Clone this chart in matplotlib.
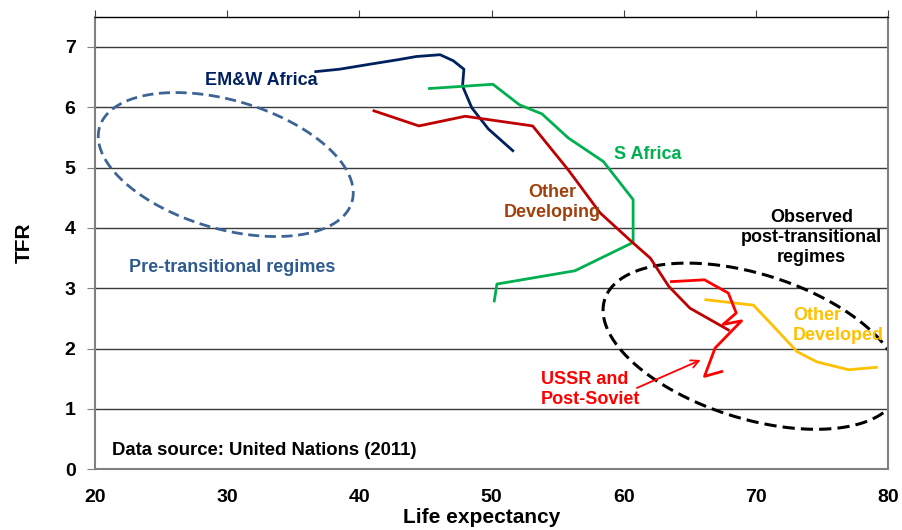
import numpy as np
import matplotlib
matplotlib.use("Agg")
import matplotlib.pyplot as plt

plt.rcParams['font.family'] = ['Liberation Sans', 'DejaVu Sans']
plt.rcParams['font.weight'] = 'bold'

# trajectories (life expectancy, TFR)
emw_x = [36.7, 38.5, 41.0, 43.0, 44.3, 46.1, 47.1, 47.9, 47.8, 48.5, 49.75, 51.6]
emw_y = [6.59, 6.63, 6.72, 6.79, 6.84, 6.87, 6.77, 6.63, 6.35, 5.99, 5.64, 5.28]

saf_x = [45.3, 50.1, 52.1, 53.8, 55.8, 58.45, 60.7, 60.7, 56.3, 50.4, 50.2]
saf_y = [6.31, 6.38, 6.04, 5.89, 5.49, 5.10, 4.47, 3.76, 3.29, 3.07, 2.79]

odv_x = [41.1, 44.5, 48.0, 53.1, 55.8, 58.2, 60.6, 62.0, 63.4, 65.0, 67.9]
odv_y = [5.94, 5.69, 5.85, 5.69, 4.96, 4.25, 3.77, 3.50, 3.03, 2.67, 2.31]

ussr_x = [63.6, 66.1, 67.9, 68.5, 67.5, 68.9, 66.9, 66.1, 67.4]
ussr_y = [3.11, 3.14, 2.92, 2.59, 2.40, 2.46, 2.01, 1.54, 1.62]

odd_x = [66.2, 69.8, 71.1, 73.1, 74.6, 77.0, 79.1]
odd_y = [2.81, 2.72, 2.42, 1.95, 1.78, 1.65, 1.69]

x_ticks = [20, 30, 40, 50, 60, 70, 80]
y_ticks = [0, 1, 2, 3, 4, 5, 6, 7]

fig = plt.figure(figsize=(9.03, 5.30), dpi=100)
ax = fig.add_axes([0.1052, 0.1145, 0.8785, 0.854])
ax.set_xlim(20, 80)
ax.set_ylim(0, 7.5)

for yv in y_ticks[1:]:
    ax.axhline(yv, color='#3a3a3a', lw=1.0, zorder=1)

ax.plot(emw_x, emw_y, color='#002060', lw=2, zorder=3)
ax.plot(saf_x, saf_y, color='#00b050', lw=2, zorder=3)
ax.plot(odv_x, odv_y, color='#c00000', lw=2, zorder=3)
ax.plot(ussr_x, ussr_y, color='#ff0000', lw=2, zorder=4)
ax.plot(odd_x, odd_y, color='#ffc000', lw=2, zorder=3)


# dashed ellipses, sized in screen pixels then mapped to data units
px_x = 13.22   # pixels per year
px_y = 60.3    # pixels per child
def ellipse(cx, cy, a, b, theta_deg):
    t = np.linspace(0, 2 * np.pi, 400)
    th = np.radians(theta_deg)
    ex = cx + (a * np.cos(t) * np.cos(th) - b * np.sin(t) * np.sin(th)) / px_x
    ey = cy + (a * np.cos(t) * np.sin(th) + b * np.sin(t) * np.cos(th)) / px_y
    return ex, ey

ex, ey = ellipse(29.89, 5.05, 131.6, 64.1, -16.5)
ax.plot(ex, ey, color='#3d6494', lw=2, ls=(0, (4, 2)), zorder=2)
ex, ey = ellipse(69.66, 2.04, 154.1, 72.1, -17.6)
ax.plot(ex, ey, color='black', lw=2.2, ls=(0, (4, 2)), zorder=2)

ax.annotate('', xy=(66.0, 1.83), xytext=(60.8, 1.33),
            arrowprops=dict(arrowstyle='->', color='#ff0000', lw=1.3,
                            mutation_scale=14), zorder=5)

fs = 13
ls = 1.2
ax.text(32.6, 6.44, 'EM&W Africa', color='#002060', fontsize=fs,
        fontweight='bold', ha='center', va='center')
ax.text(61.8, 5.21, 'S Africa', color='#00b050', fontsize=fs,
        fontweight='bold', ha='center', va='center')
ax.text(54.6, 4.42, 'Other\nDeveloping', color='#a0400a', fontsize=fs,
        fontweight='bold', ha='center', va='center', linespacing=ls)
ax.text(74.2, 3.84, 'Observed\npost-transitional\nregimes', color='black',
        fontsize=fs, fontweight='bold', ha='center', va='center', linespacing=ls)
ax.text(72.8, 2.38, 'Other\nDeveloped', color='#ffc000', fontsize=fs,
        fontweight='bold', ha='left', va='center', linespacing=ls)
ax.text(53.7, 1.32, 'USSR and\nPost-Soviet', color='#ff0000', fontsize=fs,
        fontweight='bold', ha='left', va='center', linespacing=ls)
ax.text(30.4, 3.34, 'Pre-transitional regimes', color='#2f5a8f', fontsize=fs,
        fontweight='bold', ha='center', va='center')
ax.text(21.3, 0.31, 'Data source: United Nations (2011)', color='black',
        fontsize=13.3, fontweight='bold', ha='left', va='center')

ax.set_xticks(x_ticks)
ax.set_yticks(y_ticks)
ax.set_xticklabels([str(v) for v in x_ticks], fontsize=14, fontweight='bold')
ax.set_yticklabels([str(v) for v in y_ticks], fontsize=14, fontweight='bold')
ax.tick_params(axis='x', bottom=False, top=True, labelbottom=True,
               direction='out', length=5, color='#404040', pad=9)
ax.tick_params(axis='y', direction='out', length=6, color='#808080', pad=8)

ax.set_xlabel('Life expectancy', fontsize=15, fontweight='bold')
ax.xaxis.set_label_coords(0.488, -0.085)
ax.set_ylabel('TFR', fontsize=15, fontweight='bold', labelpad=22)

for side in ['left', 'right', 'bottom']:
    ax.spines[side].set_color('#808080')
    ax.spines[side].set_linewidth(1.5)
ax.spines['top'].set_color('black')
ax.spines['top'].set_linewidth(1)

fig.savefig('out.png', dpi=100)
